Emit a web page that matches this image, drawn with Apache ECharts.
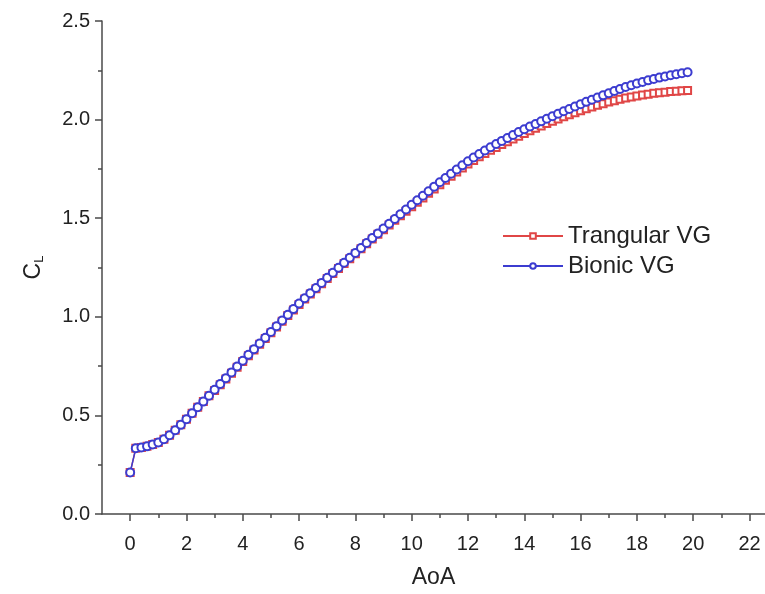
<!DOCTYPE html>
<html>
<head>
<meta charset="utf-8">
<title>CL vs AoA</title>
<script src="https://cdn.jsdelivr.net/npm/echarts@6/dist/echarts.min.js"></script>
<style>
  html, body { margin: 0; padding: 0; background: #fff; }
  #chart { width: 765px; height: 594px; }
</style>
</head>
<body>
<div id="chart"></div>
<script>
var aoa = [0, 0.2, 0.4, 0.6, 0.8, 1, 1.2, 1.4, 1.6, 1.8,
  2, 2.2, 2.4, 2.6, 2.8, 3, 3.2, 3.4, 3.6, 3.8,
  4, 4.2, 4.4, 4.6, 4.8, 5, 5.2, 5.4, 5.6, 5.8,
  6, 6.2, 6.4, 6.6, 6.8, 7, 7.2, 7.4, 7.6, 7.8,
  8, 8.2, 8.4, 8.6, 8.8, 9, 9.2, 9.4, 9.6, 9.8,
  10, 10.2, 10.4, 10.6, 10.8, 11, 11.2, 11.4, 11.6, 11.8,
  12, 12.2, 12.4, 12.6, 12.8, 13, 13.2, 13.4, 13.6, 13.8,
  14, 14.2, 14.4, 14.6, 14.8, 15, 15.2, 15.4, 15.6, 15.8,
  16, 16.2, 16.4, 16.6, 16.8, 17, 17.2, 17.4, 17.6, 17.8,
  18, 18.2, 18.4, 18.6, 18.8, 19, 19.2, 19.4, 19.6, 19.8];

var clTrangular = [0.210, 0.333, 0.337, 0.343, 0.352, 0.363, 0.379, 0.399, 0.425, 0.452,
  0.481, 0.511, 0.541, 0.570, 0.600, 0.626, 0.655, 0.685, 0.714, 0.744,
  0.773, 0.803, 0.832, 0.861, 0.890, 0.919, 0.948, 0.977, 1.006, 1.035,
  1.063, 1.090, 1.116, 1.142, 1.168, 1.194, 1.219, 1.245, 1.270, 1.295,
  1.320, 1.345, 1.370, 1.394, 1.418, 1.442, 1.465, 1.489, 1.512, 1.535,
  1.558, 1.581, 1.603, 1.626, 1.648, 1.670, 1.692, 1.713, 1.734, 1.755,
  1.775, 1.793, 1.811, 1.828, 1.844, 1.859, 1.874, 1.888, 1.902, 1.915,
  1.930, 1.943, 1.956, 1.968, 1.980, 1.992, 2.003, 2.014, 2.025, 2.035,
  2.045, 2.055, 2.064, 2.073, 2.081, 2.089, 2.096, 2.103, 2.109, 2.115,
  2.120, 2.125, 2.129, 2.133, 2.136, 2.139, 2.142, 2.144, 2.146, 2.147];

var clBionic = [0.210, 0.333, 0.337, 0.343, 0.352, 0.363, 0.379, 0.399, 0.425, 0.452,
  0.481, 0.511, 0.541, 0.570, 0.600, 0.630, 0.659, 0.689, 0.718, 0.748,
  0.777, 0.807, 0.836, 0.865, 0.894, 0.923, 0.952, 0.981, 1.010, 1.039,
  1.067, 1.094, 1.120, 1.146, 1.172, 1.198, 1.223, 1.249, 1.274, 1.299,
  1.324, 1.349, 1.374, 1.399, 1.423, 1.448, 1.472, 1.496, 1.520, 1.544,
  1.568, 1.591, 1.614, 1.637, 1.660, 1.682, 1.704, 1.726, 1.747, 1.768,
  1.789, 1.808, 1.826, 1.843, 1.860, 1.876, 1.892, 1.907, 1.922, 1.937,
  1.951, 1.965, 1.978, 1.991, 2.004, 2.017, 2.030, 2.042, 2.054, 2.066,
  2.078, 2.090, 2.101, 2.112, 2.123, 2.134, 2.145, 2.155, 2.165, 2.174,
  2.183, 2.191, 2.199, 2.206, 2.213, 2.219, 2.225, 2.230, 2.235, 2.240];

var xMajorTicks = [0, 2, 4, 6, 8, 10, 12, 14, 16, 18, 20, 22];
var xMinorTicks = [1, 3, 5, 7, 9, 11, 13, 15, 17, 19, 21];

function pairs(xs, ys) {
  return xs.map(function (x, i) { return [x, ys[i]]; });
}

var font = 'Arial, "Liberation Sans", sans-serif';
var axisColor = '#4a4a4a';
var red = '#e04646';
var blue = '#3c3cd0';

var chart = echarts.init(document.getElementById('chart'));
chart.setOption({
  backgroundColor: '#fff',
  animation: false,
  textStyle: { fontFamily: font },
  grid: { left: 102, right: 0, top: 21, bottom: 78 },
  legend: {
    orient: 'vertical',
    left: 497,
    top: 219,
    itemWidth: 60,
    itemHeight: 7,
    itemGap: 6,
    textStyle: { fontSize: 24, color: '#222', fontFamily: font },
    data: ['Trangular VG', 'Bionic VG']
  },
  xAxis: [{
    type: 'value',
    min: -1,
    max: 22.55,
    position: 'bottom',
    name: 'AoA',
    nameLocation: 'middle',
    nameGap: 52,
    nameTextStyle: { fontSize: 23, color: '#222', fontFamily: font },
    axisLine: { show: true, onZero: false, lineStyle: { color: axisColor, width: 1.5 } },
    axisTick: { show: true, customValues: xMajorTicks, length: 7, lineStyle: { color: axisColor, width: 1.5 } },
    axisLabel: { customValues: xMajorTicks, fontSize: 20, color: '#222', margin: 20, fontFamily: font },
    splitLine: { show: false }
  }, {
    type: 'value',
    min: -1,
    max: 22.55,
    position: 'bottom',
    axisLine: { show: false, onZero: false },
    axisTick: { show: true, customValues: xMinorTicks, length: 4, lineStyle: { color: axisColor, width: 1.5 } },
    axisLabel: { show: false },
    splitLine: { show: false }
  }],
  yAxis: {
    type: 'value',
    min: 0,
    max: 2.5,
    interval: 0.5,
    name: '{c|C}{s|L}',
    nameLocation: 'middle',
    nameGap: 56,
    nameTextStyle: {
      color: '#222',
      rich: {
        c: { fontSize: 23, color: '#222', fontFamily: font },
        s: { fontSize: 13, color: '#222', fontFamily: font, padding: [12, 0, 0, 0] }
      }
    },
    axisLine: { show: true, onZero: false, lineStyle: { color: axisColor, width: 1.5 } },
    axisTick: { show: true, length: 7, lineStyle: { color: axisColor, width: 1.5 } },
    minorTick: { show: true, splitNumber: 2, length: 4, lineStyle: { color: axisColor, width: 1.5 } },
    axisLabel: {
      fontSize: 20, color: '#222', margin: 12, fontFamily: font,
      formatter: function (v) { return v.toFixed(1); }
    },
    splitLine: { show: false }
  },
  series: [{
    name: 'Trangular VG',
    type: 'line',
    data: pairs(aoa, clTrangular),
    symbol: 'emptyRect',
    symbolSize: 7,
    color: red,
    lineStyle: { color: red, width: 1.5 },
    itemStyle: { color: red, borderWidth: 1 }
  }, {
    name: 'Bionic VG',
    type: 'line',
    data: pairs(aoa, clBionic),
    symbol: 'emptyCircle',
    symbolSize: 8,
    color: blue,
    lineStyle: { color: blue, width: 1.5 },
    itemStyle: { color: blue, borderWidth: 1 }
  }]
});
</script>
</body>
</html>
